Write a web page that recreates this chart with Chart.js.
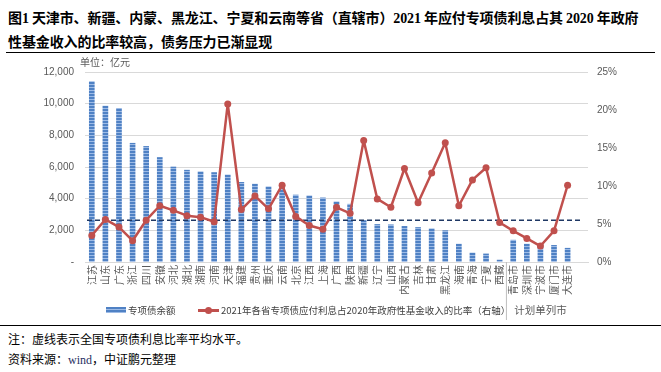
<!DOCTYPE html>
<html>
<head>
<meta charset="utf-8">
<script src="https://cdn.jsdelivr.net/npm/chart.js@4"></script>
<style>
  body { margin: 0; background: #fff; font-family: "Noto Sans CJK SC", sans-serif; }
  #page { position: relative; width: 661px; height: 372px; overflow: hidden; }
  .title { position: absolute; left: 8px; top: 6px; font-size: 14px; font-weight: 700; line-height: 23px; color: #000; white-space: nowrap; letter-spacing: -0.1px; }
  .num { font-family: "Liberation Serif", serif; }
  .rule { position: absolute; left: 6px; right: 6px; height: 1px; background: #000; }
  .unit { position: absolute; left: 80px; top: 54px; font-size: 10px; color: #595959; }
  .legend { position: absolute; top: 302px; font-size: 9.5px; color: #404040; white-space: nowrap; }
  .legend span { display: inline-block; vertical-align: middle; }
  .sw-bar { width: 20px; height: 6px; margin-right: 2px; background: repeating-linear-gradient(#4f81c4 0 2px, #9dbbe6 2px 3px); }
  .sw-line { position: relative; width: 21px; height: 3px; margin-right: 2px; background: #c0504d; }
  .sw-line::after { content: ""; position: absolute; left: 7px; top: -2px; width: 7px; height: 7px; border-radius: 50%; background: #c0504d; }
  .note { position: absolute; left: 8px; font-size: 12px; color: #000; }
  .wind { font-family: "Liberation Serif", serif; color: #1f2f5f; }
  #wrap { position: absolute; left: 0; top: 55px; width: 661px; height: 270px; }
</style>
</head>
<body>
<div id="page">
  <div class="title">图<span class="num">1</span> 天津市、新疆、内蒙、黑龙江、宁夏和云南等省（直辖市）<span class="num">2021</span> 年应付专项债利息占其 <span class="num">2020</span> 年政府<br>性基金收入的比率较高，债务压力已渐显现</div>
  <div class="rule" style="top:52px"></div>
  <div id="wrap"><canvas id="debtChart" width="661" height="270"></canvas></div>
  <div class="unit">单位：亿元</div>
  <div class="legend" style="left:106px"><span class="sw-bar"></span><span>专项债余额</span></div>
  <div class="legend" style="left:198px"><span class="sw-line"></span><span>2021年各省专项债应付利息占2020年政府性基金收入的比率（右轴）</span></div>
  <div class="rule" style="top:325px; left:0; right:0"></div>
  <div class="note" style="top:330px">注：虚线表示全国专项债利息比率平均水平。</div>
  <div class="note" style="top:350px">资料来源：<span class="wind">wind</span>，中证鹏元整理</div>
</div>
<script>
const regions = ["江苏", "山东", "广东", "浙江", "四川", "安徽", "河北", "湖北", "湖南", "河南",
  "天津", "福建", "贵州", "重庆", "云南", "北京", "江西", "上海", "广西", "陕西",
  "新疆", "辽宁", "山西", "内蒙古", "吉林", "甘肃", "黑龙江", "海南", "青海", "宁夏", "西藏",
  "青岛市", "深圳市", "宁波市", "厦门市", "大连市", ""];

// 专项债余额（亿元）
const debtBalance = [11400, 9850, 9700, 7500, 7300, 6600, 6000, 5800, 5700, 5650,
  5500, 5030, 4920, 4750, 4650, 4230, 4180, 4050, 3800, 3650,
  2620, 2370, 2350, 2250, 2180, 2100, 1980, 1130, 570, 510, 120,
  1380, 1130, 1070, 1050, 870, null];

// 2021年应付利息 / 2020年政府性基金收入（%）
const interestRatio = [3.5, 5.6, 4.6, 2.8, 5.5, 7.4, 6.8, 6.1, 5.9, 5.3,
  20.8, 6.9, 8.7, 7.0, 10.1, 6.0, 4.8, 4.3, 7.2, 6.4,
  16.0, 8.3, 7.2, 12.3, 7.8, 11.7, 15.7, 7.4, 10.8, 12.4, 5.2,
  4.1, 3.1, 2.1, 4.1, 10.1, null];

const nationalAvg = 5.5;
const leftTicks = [0, 2000, 4000, 6000, 8000, 10000, 12000];
const rightTicks = [0, 5, 10, 15, 20, 25];
const cityGroup = "计划单列市";
const firstCity = 31, lastCity = 35;

const axisFont = { family: "'Liberation Sans', 'Noto Sans CJK SC'", size: 10 };

// striped fill like the excel pattern
const stripe = document.createElement("canvas");
stripe.width = 4; stripe.height = 3;
const sctx = stripe.getContext("2d");
sctx.fillStyle = "#4f81c4"; sctx.fillRect(0, 0, 4, 2);
sctx.fillStyle = "#9dbbe6"; sctx.fillRect(0, 2, 4, 1);
const barFill = sctx.createPattern(stripe, "repeat");

const extras = {
  id: "extras",
  afterDatasetDraw(chart, args) {
    if (args.index !== 1) return;
    const { ctx, chartArea, scales } = chart;
    const y = scales.y1.getPixelForValue(nationalAvg);
    ctx.save();
    ctx.strokeStyle = "#1f3864";
    ctx.lineWidth = 1.6;
    ctx.setLineDash([5, 3]);
    ctx.beginPath();
    ctx.moveTo(chartArea.left + 2, y);
    ctx.lineTo(chartArea.right - 6, y);
    ctx.stroke();
    ctx.restore();
  },
  afterDraw(chart) {
    const { ctx, chartArea, scales } = chart;
    const x = scales.x;
    const sepX = (x.getPixelForValue(firstCity - 1) + x.getPixelForValue(firstCity)) / 2;
    ctx.save();
    ctx.strokeStyle = "#bfbfbf";
    ctx.lineWidth = 1;
    ctx.beginPath();
    ctx.moveTo(sepX, chartArea.bottom);
    ctx.lineTo(sepX, chartArea.bottom + 58);
    ctx.stroke();
    ctx.fillStyle = "#595959";
    ctx.font = "10.5px 'Noto Sans CJK SC'";
    ctx.textAlign = "center";
    ctx.textBaseline = "middle";
    ctx.fillText(cityGroup, (x.getPixelForValue(firstCity) + x.getPixelForValue(lastCity)) / 2, chartArea.bottom + 48);
    ctx.restore();
  }
};

new Chart(document.getElementById("debtChart"), {
  type: "bar",
  data: {
    labels: regions,
    datasets: [
      {
        type: "line",
        label: "2021年各省专项债应付利息占2020年政府性基金收入的比率（右轴）",
        data: interestRatio,
        yAxisID: "y1",
        borderColor: "#c0504d",
        backgroundColor: "#c0504d",
        borderWidth: 2.5,
        borderJoinStyle: "round",
        pointRadius: 3.5,
        pointBorderWidth: 0,
        tension: 0
      },
      {
        label: "专项债余额",
        data: debtBalance,
        yAxisID: "y",
        backgroundColor: barFill,
        barThickness: 5
      }
    ]
  },
  options: {
    responsive: false,
    animation: false,
    layout: { padding: { top: 11, left: 0, right: 0, bottom: 0 } },
    plugins: { legend: { display: false }, tooltip: { enabled: false } },
    scales: {
      x: {
        grid: { display: false, drawTicks: false },
        border: { color: "#d9d9d9" },
        ticks: { autoSkip: false, minRotation: 90, maxRotation: 90, padding: 3, color: "#595959", font: { family: "'Noto Sans CJK SC'", size: 10 } },
        afterFit: (s) => { s.height = 63; }
      },
      y: {
        position: "left",
        min: 0, max: 12000,
        afterBuildTicks: (s) => { s.ticks = leftTicks.map((v) => ({ value: v })); },
        grid: { color: "#d9d9d9", drawTicks: false },
        border: { display: false },
        ticks: { padding: 11, color: "#595959", font: axisFont, callback: (v) => v === 0 ? "-" : v.toLocaleString("en-US") },
        afterFit: (s) => { s.width = 85; }
      },
      y1: {
        position: "right",
        min: 0, max: 25,
        afterBuildTicks: (s) => { s.ticks = rightTicks.map((v) => ({ value: v })); },
        grid: { display: false, drawTicks: false },
        border: { display: false },
        ticks: { padding: 9, color: "#595959", font: axisFont, callback: (v) => v + "%" },
        afterFit: (s) => { s.width = 73; }
      }
    }
  },
  plugins: [extras]
});
</script>
</body>
</html>
